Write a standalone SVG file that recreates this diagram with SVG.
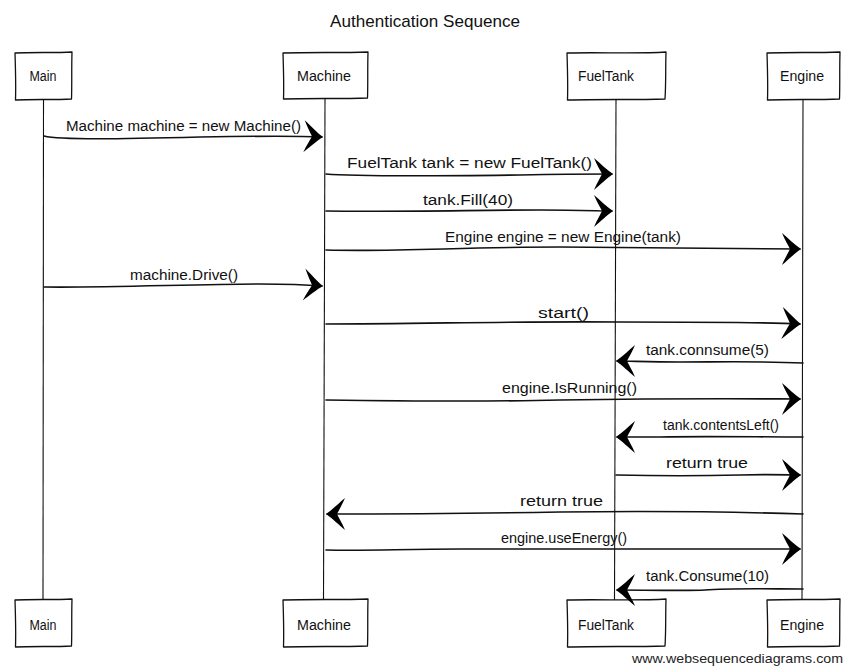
<svg xmlns="http://www.w3.org/2000/svg" width="852" height="672" viewBox="0 0 852 672">
  <style>
    .box { fill: #ffffff; stroke: #111111; stroke-width: 1.3; stroke-linejoin: round; }
    .life { fill: none; stroke: #111111; stroke-width: 1.1; }
    .msg { fill: none; stroke: #111111; stroke-width: 1.6; stroke-linecap: round; marker-end: url(#head); }
    .lbl { font-family: "Liberation Sans", Arial, sans-serif; font-size: 14px; fill: #111111; text-anchor: middle; }
    .title { font-family: "Liberation Sans", Arial, sans-serif; font-size: 17px; fill: #111111; text-anchor: middle; }
    .mark { font-family: "Liberation Sans", Arial, sans-serif; font-size: 13.5px; fill: #222222; text-anchor: end; }
  </style>
  <defs>
    <!-- filled hand-drawn chevron arrowhead -->
    <marker id="head" markerUnits="userSpaceOnUse" viewBox="-21 -18 24 36" refX="0" refY="0" markerWidth="24" markerHeight="36" orient="auto" overflow="visible">
      <path d="M1,0 C-5,-4 -12,-11 -18,-16 C-15,-9 -12,-4 -10,0 C-12,4 -15,9 -18,16 C-12,11 -5,4 1,0 Z" fill="#000000"/>
    </marker>
  </defs>

  <rect width="852" height="672" fill="#ffffff"/>

  <text class="title" x="425" y="27" textLength="190" lengthAdjust="spacingAndGlyphs">Authentication Sequence</text>

  <!-- lifelines -->
  <g id="lifelines">
    <path class="life" d="M43.5,99 L43,600"/>
    <path class="life" d="M325,99 C324.5,300 324,450 323.5,600"/>
    <path class="life" d="M616,99 C615.5,300 615,450 614.5,600"/>
    <path class="life" d="M803,99 C802.5,300 802.5,450 802,600"/>
  </g>

  <!-- participants, top -->
  <g id="main-top">
    <path class="box" d="M15,53 C30,52 55,53 72,52 C71.5,68 72,85 71.5,99 C55,100 30,99 15.5,100 C16,85 15.5,68 15,53 Z"/>
    <text class="lbl" x="43" y="81" textLength="27" lengthAdjust="spacingAndGlyphs">Main</text>
  </g>
  <g id="machine-top">
    <path class="box" d="M283,53 C310,52 340,53 368,52 C367.5,68 368,85 367.5,98 C340,99 310,98 283.5,99 C284,85 283.5,68 283,53 Z"/>
    <text class="lbl" x="324" y="81" textLength="54" lengthAdjust="spacingAndGlyphs">Machine</text>
  </g>
  <g id="fueltank-top">
    <path class="box" d="M567,53 C600,52 635,54 666,52 C665.5,68 666,85 665,99 C635,100 600,99 567.5,100 C568,85 567.5,68 567,53 Z"/>
    <text class="lbl" x="606" y="81" textLength="56" lengthAdjust="spacingAndGlyphs">FuelTank</text>
  </g>
  <g id="engine-top">
    <path class="box" d="M767,53 C790,52 815,53 840,52 C839.5,68 840,85 839.5,99 C815,100 790,99 767.5,100 C768,85 767.5,68 767,53 Z"/>
    <text class="lbl" x="802" y="81" textLength="44" lengthAdjust="spacingAndGlyphs">Engine</text>
  </g>

  <!-- participants, bottom -->
  <g id="main-bottom">
    <path class="box" d="M15,600 C30,599 55,600 72,599 C71.5,615 72,632 71.5,646 C55,647 30,646 15.5,647 C16,632 15.5,615 15,600 Z"/>
    <text class="lbl" x="43" y="630" textLength="27" lengthAdjust="spacingAndGlyphs">Main</text>
  </g>
  <g id="machine-bottom">
    <path class="box" d="M283,600 C310,599 340,600 368,599 C367.5,615 368,632 367.5,646 C340,647 310,646 283.5,647 C284,632 283.5,615 283,600 Z"/>
    <text class="lbl" x="324" y="630" textLength="54" lengthAdjust="spacingAndGlyphs">Machine</text>
  </g>
  <g id="fueltank-bottom">
    <path class="box" d="M567,600 C600,599 635,601 666,599 C665.5,615 666,632 665,646 C635,647 600,646 567.5,647 C568,632 567.5,615 567,600 Z"/>
    <text class="lbl" x="606" y="630" textLength="56" lengthAdjust="spacingAndGlyphs">FuelTank</text>
  </g>
  <g id="engine-bottom">
    <path class="box" d="M767,600 C790,599 815,600 840,599 C839.5,615 840,632 839.5,646 C815,647 790,646 767.5,647 C768,632 767.5,615 767,600 Z"/>
    <text class="lbl" x="802" y="630" textLength="44" lengthAdjust="spacingAndGlyphs">Engine</text>
  </g>

  <!-- messages -->
  <g id="connectors">
    <path class="msg" d="M44,136 C60,140 120,139 200,137 C260,136 300,136 322,137"/>
    <path class="msg" d="M326,174 C360,177 440,176 520,175 C570,174 595,174 612,174"/>
    <path class="msg" d="M326,211 C400,212 480,210 540,210 C580,210 600,211 612,211"/>
    <path class="msg" d="M326,250 C400,252 460,247 560,247 C700,248 770,249 800,249"/>
    <path class="msg" d="M44,287 C100,288 200,284 260,284 C290,284 310,285 322,286"/>
    <path class="msg" d="M326,324 C420,324 520,321 620,322 C720,322 780,323 800,324"/>
    <path class="msg" d="M803,363 C760,361 720,362 680,362 C650,362 630,361 617,361"/>
    <path class="msg" d="M326,400 C400,401 480,402 560,400 C700,398 770,399 800,399"/>
    <path class="msg" d="M803,437 C760,437 700,436 660,437 C640,437 628,437 617,437"/>
    <path class="msg" d="M616,475 C660,476 700,476 740,475 C770,474 790,475 800,475"/>
    <path class="msg" d="M803,514 C740,512 650,511 560,512 C450,514 380,514 327,514"/>
    <path class="msg" d="M326,550 C370,551 400,549 460,549 C560,549 700,549 800,549"/>
    <path class="msg" d="M803,589 C770,589 730,588 705,590 C690,591 640,590 617,590"/>
  </g>

  <!-- message labels -->
  <g id="labels">
    <text class="lbl" x="183.5" y="131" textLength="235" lengthAdjust="spacingAndGlyphs">Machine machine = new Machine()</text>
    <text class="lbl" x="469.5" y="168" textLength="245" lengthAdjust="spacingAndGlyphs">FuelTank tank = new FuelTank()</text>
    <text class="lbl" x="468" y="205" textLength="90" lengthAdjust="spacingAndGlyphs">tank.Fill(40)</text>
    <text class="lbl" x="563" y="242" textLength="236" lengthAdjust="spacingAndGlyphs">Engine engine = new Engine(tank)</text>
    <text class="lbl" x="184" y="280" textLength="108" lengthAdjust="spacingAndGlyphs">machine.Drive()</text>
    <text class="lbl" x="563.5" y="318" textLength="51" lengthAdjust="spacingAndGlyphs">start()</text>
    <text class="lbl" x="707.5" y="355" textLength="123" lengthAdjust="spacingAndGlyphs">tank.connsume(5)</text>
    <text class="lbl" x="569.5" y="393" textLength="135" lengthAdjust="spacingAndGlyphs">engine.IsRunning()</text>
    <text class="lbl" x="721" y="430" textLength="116" lengthAdjust="spacingAndGlyphs">tank.contentsLeft()</text>
    <text class="lbl" x="707" y="468" textLength="82" lengthAdjust="spacingAndGlyphs">return true</text>
    <text class="lbl" x="561.5" y="506" textLength="83" lengthAdjust="spacingAndGlyphs">return true</text>
    <text class="lbl" x="564" y="543" textLength="126" lengthAdjust="spacingAndGlyphs">engine.useEnergy()</text>
    <text class="lbl" x="707.5" y="581" textLength="123" lengthAdjust="spacingAndGlyphs">tank.Consume(10)</text>
  </g>

  <text class="mark" x="843" y="663" textLength="211" lengthAdjust="spacingAndGlyphs">www.websequencediagrams.com</text>
</svg>
